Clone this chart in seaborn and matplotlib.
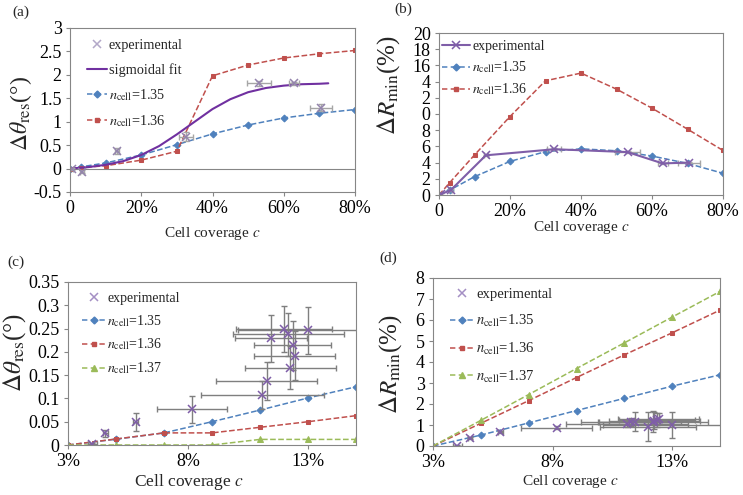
import numpy as np
import seaborn as sns
import matplotlib.pyplot as plt
from matplotlib.lines import Line2D

# ---- panel (a)/(b): coverage 0-80 %
cov_model = [0.0, 0.03, 0.10, 0.20, 0.30, 0.40, 0.50, 0.60, 0.70, 0.80]
theta_135 = [0.0, 0.035, 0.12, 0.29, 0.51, 0.74, 0.93, 1.08, 1.18, 1.26]
theta_136 = [0.0, 0.02, 0.06, 0.18, 0.37, 1.98, 2.21, 2.36, 2.45, 2.52]
rmin_135 = [0.0, 0.6, 2.26, 4.15, 5.35, 5.7, 5.46, 4.81, 3.9, 2.68]
rmin_136 = [0.0, 1.52, 4.94, 9.69, 14.1, 15.05, 13.07, 10.72, 8.13, 5.5]

sig_x = [0.0, 0.05, 0.10, 0.15, 0.20, 0.25, 0.30, 0.35, 0.40, 0.45, 0.50, 0.55, 0.60, 0.65, 0.70, 0.725]
sig_y = [0.0, 0.03, 0.08, 0.16, 0.29, 0.48, 0.73, 1.00, 1.27, 1.48, 1.63, 1.72, 1.77, 1.80, 1.81, 1.82]

exp_cov = [0.005, 0.033, 0.132, 0.325, 0.531, 0.630, 0.704]
exp_cov_err = [0.004, 0.005, 0.005, 0.02, 0.034, 0.014, 0.031]
exp_theta = [0.0, -0.07, 0.38, 0.68, 1.82, 1.82, 1.30]
exp_theta_err = [0.02, 0.03, 0.06, 0.09, 0.05, 0.03, 0.07]
exp_rmin = [0.1, 0.6, 4.9, 5.65, 5.3, 3.9, 4.0]
exp_rmin_err = [0.1, 0.1, 0.1, 0.1, 0.1, 0.1, 0.1]

# ---- panel (c)/(d): coverage 3-15 %
cov_low = [0.03, 0.05, 0.07, 0.09, 0.11, 0.13, 0.15]
dth_135 = [0.0, 0.0125, 0.026, 0.05, 0.075, 0.101, 0.125]
dth_136 = [0.0, 0.0129, 0.026, 0.026, 0.038, 0.05, 0.063]
dth_137 = [0.0, 0.0, 0.0, 0.0, 0.012, 0.012, 0.012]
dr_135 = [0.0, 0.52, 1.1, 1.69, 2.27, 2.85, 3.39]
dr_136 = [0.0, 1.08, 2.16, 3.26, 4.34, 5.39, 6.47]
dr_137 = [0.0, 1.22, 2.45, 3.69, 4.91, 6.14, 7.36]

lo_cov = [0.0402, 0.0455, 0.0582, 0.0817, 0.1110, 0.1128, 0.1145, 0.1198, 0.1218, 0.1226, 0.1237, 0.1244, 0.1299]
lo_cov_err = [0.002, 0.001, 0.001, 0.0147, 0.0255, 0.021, 0.015, 0.02, 0.023, 0.019, 0.016, 0.017, 0.029]
lo_theta = [0.002, 0.025, 0.049, 0.077, 0.107, 0.137, 0.229, 0.249, 0.238, 0.166, 0.214, 0.192, 0.246]
lo_theta_err = [0.003, 0.008, 0.019, 0.029, 0.03, 0.041, 0.05, 0.05, 0.046, 0.046, 0.052, 0.052, 0.05]
lo_rmin = [0.01, 0.37, 0.65, 0.88, 1.05, 1.13, 1.16, 0.92, 1.16, 1.20, 1.24, 1.30, 1.00]
lo_rmin_err = [0.02, 0.04, 0.05, 0.06, 0.15, 0.2, 0.45, 0.68, 0.5, 0.4, 0.35, 0.25, 0.63]

BLUE, RED, GREEN, PURPLE = '#4f81bd', '#c0504d', '#9bbb59', '#7f5ea8'
FRAME = '#868686'
ERR = '#7f7f7f'

sns.set_theme(style='white')
plt.rcParams['font.family'] = ['Liberation Serif', 'DejaVu Serif']
plt.rcParams['mathtext.fontset'] = 'stix'

fig = plt.figure(figsize=(7.43, 4.95), dpi=100)
W, H = 743, 495


def make_ax(left, top, right, bottom):
    return fig.add_axes([left / W, 1 - bottom / H, (right - left) / W, (bottom - top) / H])


def style(ax):
    for s in ax.spines.values():
        s.set_color(FRAME)
        s.set_linewidth(0.8)
    ax.tick_params(axis='both', colors=FRAME, labelcolor='black', labelsize=13,
                   length=3, width=0.8, direction='out', pad=3)
    ax.tick_params(left=True, bottom=True)


def model(ax, x, y, color, marker, ms):
    sns.lineplot(x=x, y=y, ax=ax, color=color, marker=marker, markersize=ms,
                 markeredgecolor=color, linestyle='--', dashes=(3.5, 2.2), linewidth=1.1)


def n_label(v):
    return r'$n_{\rm cell}$=' + v


def h_model(color, marker, ms):
    return Line2D([], [], color=color, marker=marker, markersize=ms, linestyle='--',
                  dashes=(3.5, 2.2), linewidth=1.1)


# ---------------- (a)
ax = make_ax(70, 28, 355, 192)
style(ax)
ax.axhline(0, color=FRAME, lw=0.8)
model(ax, cov_model, theta_135, BLUE, 'D', 3.5)
model(ax, cov_model, theta_136, RED, 's', 3.5)
sns.lineplot(x=sig_x, y=sig_y, ax=ax, color='#7030a0', linewidth=1.5)
ax.errorbar(exp_cov, exp_theta, xerr=exp_cov_err, yerr=exp_theta_err, fmt='none',
            ecolor='#a6a6a6', elinewidth=1, capsize=2)
ax.plot(exp_cov, exp_theta, 'x', color='#9484ad', markersize=6, mew=1.1)
ax.set_xlim(0, 0.8)
ax.set_ylim(-0.5, 3)
ax.set_xticks([0, 0.2, 0.4, 0.6, 0.8], ['0', '20%', '40%', '60%', '80%'])
ax.set_yticks(np.arange(-0.5, 3.01, 0.5), ['-0.5', '0', '0.5', '1', '1.5', '2', '2.5', '3'])
ax.set_xlabel('Cell coverage $c$', fontsize=11)
ax.xaxis.set_label_coords(0.5, -0.2)
ax.set_ylabel(r'$\Delta\theta_{\rm res}$(°)', fontsize=17)
ax.yaxis.set_label_coords(-0.125, 0.48)
handles = [Line2D([], [], color='#b3a8c8', marker='x', linestyle='none', markersize=6, mew=1.1),
           Line2D([], [], color='#7030a0', linewidth=1.5),
           h_model(BLUE, 'D', 3.5), h_model(RED, 's', 3.5)]
ax.legend(handles, ['experimental', 'sigmoidal fit', n_label('1.35'), n_label('1.36')],
          loc='upper left', bbox_to_anchor=(0.06, 0.93), frameon=False, fontsize=10.3,
          handlelength=1.4, handletextpad=0.1, labelspacing=0.72, borderpad=0, borderaxespad=0)

# ---------------- (b)
ax = make_ax(439, 33, 723, 195)
style(ax)
model(ax, cov_model, rmin_135, BLUE, 'D', 3.5)
model(ax, cov_model, rmin_136, RED, 's', 3.5)
ax.errorbar(exp_cov, exp_rmin, xerr=exp_cov_err, yerr=exp_rmin_err, fmt='none',
            ecolor='#a6a6a6', elinewidth=1, capsize=2)
sns.lineplot(x=exp_cov, y=exp_rmin, ax=ax, color=PURPLE, marker='x', markersize=6,
             markeredgecolor=PURPLE, mew=1.1, linewidth=1.5)
ax.set_xlim(0, 0.8)
ax.set_ylim(0, 20)
ax.set_xticks([0, 0.2, 0.4, 0.6, 0.8], ['0', '20%', '40%', '60%', '80%'])
ax.set_yticks(np.arange(0, 20.1, 2), ['0', '2', '4', '6', '8', '0', '2', '4', '16', '18', '20'])
ax.set_xlabel('Cell coverage $c$', fontsize=11)
ax.xaxis.set_label_coords(0.5, -0.15)
ax.set_ylabel(r'$\Delta R_{\rm min}$(%)', fontsize=18)
ax.yaxis.set_label_coords(-0.13, 0.68)
handles = [Line2D([], [], color=PURPLE, marker='x', markersize=6, mew=1.1, linewidth=1.5),
           h_model(BLUE, 'D', 3.5), h_model(RED, 's', 3.5)]
ax.legend(handles, ['experimental', n_label('1.35'), n_label('1.36')],
          loc='upper left', bbox_to_anchor=(0.01, 0.955), frameon=False, fontsize=10,
          handlelength=2.0, handletextpad=0.2, labelspacing=0.45, borderpad=0, borderaxespad=0)

# ---------------- (c)
ax = make_ax(68, 282, 356, 445)
style(ax)
model(ax, cov_low, dth_135, BLUE, 'D', 3.5)
model(ax, cov_low, dth_136, RED, 's', 3.5)
model(ax, cov_low, dth_137, GREEN, '^', 4)
ax.errorbar(lo_cov, lo_theta, xerr=lo_cov_err, yerr=lo_theta_err, fmt='none',
            ecolor=ERR, elinewidth=1, capsize=2)
ax.plot(lo_cov, lo_theta, 'x', color=PURPLE, markersize=6, mew=1.1)
ax.set_xlim(0.03, 0.15)
ax.set_ylim(0, 0.35)
ax.set_xticks([0.03, 0.08, 0.13], ['3%', '8%', '13%'])
ax.set_yticks(np.arange(0, 0.351, 0.05), ['0', '0.05', '0.1', '0.15', '0.2', '0.25', '0.3', '0.35'])
ax.set_xlabel('Cell coverage $c$', fontsize=12.5)
ax.xaxis.set_label_coords(0.42, -0.165)
ax.set_ylabel(r'$\Delta\theta_{\rm res}$(°)', fontsize=18)
ax.yaxis.set_label_coords(-0.14, 0.57)
handles = [Line2D([], [], color='#a48fc4', marker='x', linestyle='none', markersize=6, mew=1.1),
           h_model(BLUE, 'D', 3.5), h_model(RED, 's', 3.5), h_model(GREEN, '^', 4)]
ax.legend(handles, ['experimental', n_label('1.35'), n_label('1.36'), n_label('1.37')],
          loc='upper left', bbox_to_anchor=(0.05, 0.94), frameon=False, fontsize=10,
          handlelength=1.6, handletextpad=0.2, labelspacing=0.58, borderpad=0, borderaxespad=0)

# ---------------- (d)
ax = make_ax(433, 278, 720, 446)
style(ax)
model(ax, cov_low, dr_135, BLUE, 'D', 3.5)
model(ax, cov_low, dr_136, RED, 's', 3.5)
model(ax, cov_low, dr_137, GREEN, '^', 4)
ax.errorbar(lo_cov, lo_rmin, xerr=lo_cov_err, yerr=lo_rmin_err, fmt='none',
            ecolor=ERR, elinewidth=1, capsize=2)
ax.plot(lo_cov, lo_rmin, 'x', color=PURPLE, markersize=6, mew=1.1)
ax.set_xlim(0.03, 0.15)
ax.set_ylim(0, 8)
ax.set_xticks([0.03, 0.08, 0.13], ['3%', '8%', '13%'])
ax.set_yticks(range(0, 9), [str(v) for v in range(0, 9)])
ax.set_xlabel('Cell coverage $c$', fontsize=11)
ax.xaxis.set_label_coords(0.48, -0.16)
ax.set_ylabel(r'$\Delta R_{\rm min}$(%)', fontsize=18)
ax.yaxis.set_label_coords(-0.10, 0.49)
handles = [Line2D([], [], color='#a48fc4', marker='x', linestyle='none', markersize=6, mew=1.1),
           h_model(BLUE, 'D', 3.5), h_model(RED, 's', 3.5), h_model(GREEN, '^', 4)]
ax.legend(handles, ['experimental', n_label('1.35'), n_label('1.36'), n_label('1.37')],
          loc='upper left', bbox_to_anchor=(0.06, 0.94), frameon=False, fontsize=10.5,
          handlelength=1.6, handletextpad=0.2, labelspacing=0.8, borderpad=0, borderaxespad=0)

for x, y, t in [(12, 6, '(a)'), (394, 3, '(b)'), (7, 256, '(c)'), (379, 252, '(d)')]:
    fig.text(x / W, 1 - y / H, t, fontsize=11, va='top', ha='left')

fig.savefig('out.png', dpi=100)
